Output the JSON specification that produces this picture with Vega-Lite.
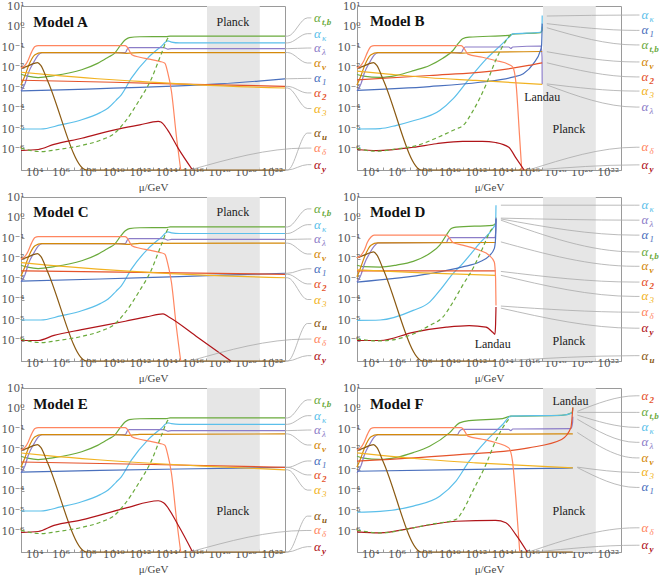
{
"$schema":"https://vega.github.io/schema/vega-lite/v6.json",
"background":"white",
"padding":{"left":0,"top":0,"right":0,"bottom":0},
"data":{"values":[
{"p":"A","k":"band","x":17.09,"x2":21.09},
{"p":"B","k":"band","x":17.09,"x2":21.09},
{"p":"C","k":"band","x":17.09,"x2":21.09},
{"p":"D","k":"band","x":17.09,"x2":21.09},
{"p":"E","k":"band","x":17.09,"x2":21.09},
{"p":"F","k":"band","x":17.09,"x2":21.09},
{"p":"A","k":"m","t":"Model A","x":3.92,"y":0.23},
{"p":"A","k":"n","t":"Planck","x":19.05,"y":0.24},
{"p":"B","k":"m","t":"Model B","x":3.98,"y":0.25},
{"p":"B","k":"n","t":"Landau","x":17.03,"y":-3.45},
{"p":"B","k":"n","t":"Planck","x":19.05,"y":-5.0},
{"p":"C","k":"m","t":"Model C","x":3.92,"y":0.26},
{"p":"C","k":"n","t":"Planck","x":19.05,"y":0.26},
{"p":"D","k":"m","t":"Model D","x":3.98,"y":0.28},
{"p":"D","k":"n","t":"Landau","x":13.28,"y":-6.17},
{"p":"D","k":"n","t":"Planck","x":19.05,"y":-6.0},
{"p":"E","k":"m","t":"Model E","x":3.92,"y":0.23},
{"p":"E","k":"n","t":"Planck","x":19.05,"y":-5.0},
{"p":"F","k":"m","t":"Model F","x":3.98,"y":0.23},
{"p":"F","k":"n","t":"Landau","x":19.17,"y":0.39},
{"p":"F","k":"n","t":"Planck","x":19.05,"y":-5.0},

{"p":"A","s":"tb","x":3,"y":-2.33},{"p":"A","s":"tb","x":3.5,"y":-2.42},{"p":"A","s":"tb","x":4.3,"y":-2.49},{"p":"A","s":"tb","x":5.5,"y":-2.4},{"p":"A","s":"tb","x":7.6,"y":-2.11},{"p":"A","s":"tb","x":8.8,"y":-1.8},{"p":"A","s":"tb","x":9.6,"y":-1.5},{"p":"A","s":"tb","x":10.1,"y":-1.3},{"p":"A","s":"tb","x":10.5,"y":-0.95},{"p":"A","s":"tb","x":10.9,"y":-0.65},{"p":"A","s":"tb","x":11.2,"y":-0.54},{"p":"A","s":"tb","x":12,"y":-0.5},{"p":"A","s":"tb","x":14,"y":-0.49},{"p":"A","s":"tb","x":14.3,"y":-0.47},{"p":"A","s":"tb","x":23,"y":-0.47},
{"p":"A","s":"b","x":3,"y":-5.93},{"p":"A","s":"b","x":3.5,"y":-6.02},{"p":"A","s":"b","x":4.5,"y":-6.1},{"p":"A","s":"b","x":6,"y":-5.98},{"p":"A","s":"b","x":7.6,"y":-5.8},{"p":"A","s":"b","x":9,"y":-5.55},{"p":"A","s":"b","x":10.1,"y":-5.2},{"p":"A","s":"b","x":10.9,"y":-4.63},{"p":"A","s":"b","x":11.9,"y":-3.66},{"p":"A","s":"b","x":12.9,"y":-2.52},{"p":"A","s":"b","x":13.6,"y":-1.38},{"p":"A","s":"b","x":14.13,"y":-0.57},{"p":"A","s":"b","x":14.3,"y":-0.47},
{"p":"A","s":"k","x":3,"y":-5},{"p":"A","s":"k","x":4.5,"y":-5},{"p":"A","s":"k","x":6,"y":-4.8},{"p":"A","s":"k","x":7.6,"y":-4.55},{"p":"A","s":"k","x":9,"y":-4.2},{"p":"A","s":"k","x":9.6,"y":-3.98},{"p":"A","s":"k","x":10.2,"y":-3.6},{"p":"A","s":"k","x":10.6,"y":-3.33},{"p":"A","s":"k","x":11.36,"y":-2.52},{"p":"A","s":"k","x":12.6,"y":-1.54},{"p":"A","s":"k","x":13.6,"y":-0.98},{"p":"A","s":"k","x":14.13,"y":-0.7},{"p":"A","s":"k","x":14.4,"y":-0.76},{"p":"A","s":"k","x":15,"y":-0.8},{"p":"A","s":"k","x":23,"y":-0.8},
{"p":"A","s":"l","x":3,"y":-3.14},{"p":"A","s":"l","x":3.3,"y":-2.8},{"p":"A","s":"l","x":3.55,"y":-2.28},{"p":"A","s":"l","x":4,"y":-1.7},{"p":"A","s":"l","x":4.3,"y":-1.4},{"p":"A","s":"l","x":4.6,"y":-1.28},{"p":"A","s":"l","x":10.9,"y":-1.27},{"p":"A","s":"l","x":11.05,"y":-1.1},{"p":"A","s":"l","x":11.2,"y":-1.03},{"p":"A","s":"l","x":13.8,"y":-1.03},{"p":"A","s":"l","x":14.1,"y":-1.1},{"p":"A","s":"l","x":14.4,"y":-1.08},{"p":"A","s":"l","x":23,"y":-1.08},
{"p":"A","s":"v","x":3,"y":-2.85},{"p":"A","s":"v","x":3.3,"y":-2.4},{"p":"A","s":"v","x":3.55,"y":-1.95},{"p":"A","s":"v","x":4.06,"y":-1.38},{"p":"A","s":"v","x":4.56,"y":-1.27},{"p":"A","s":"v","x":10,"y":-1.27},{"p":"A","s":"v","x":11,"y":-1.31},{"p":"A","s":"v","x":12,"y":-1.27},{"p":"A","s":"v","x":23,"y":-1.27},
{"p":"A","s":"g1","x":3,"y":-3.14},{"p":"A","s":"g1","x":6,"y":-3.09},{"p":"A","s":"g1","x":9,"y":-3.03},{"p":"A","s":"g1","x":12,"y":-2.97},{"p":"A","s":"g1","x":15,"y":-2.9},{"p":"A","s":"g1","x":18,"y":-2.8},{"p":"A","s":"g1","x":21,"y":-2.66},{"p":"A","s":"g1","x":23,"y":-2.55},
{"p":"A","s":"g2","x":3,"y":-2.62},{"p":"A","s":"g2","x":10,"y":-2.72},{"p":"A","s":"g2","x":16,"y":-2.82},{"p":"A","s":"g2","x":23,"y":-2.92},
{"p":"A","s":"g3","x":3,"y":-2.23},{"p":"A","s":"g3","x":5,"y":-2.35},{"p":"A","s":"g3","x":8.8,"y":-2.55},{"p":"A","s":"g3","x":12,"y":-2.68},{"p":"A","s":"g3","x":16.4,"y":-2.85},{"p":"A","s":"g3","x":23,"y":-3},
{"p":"A","s":"u","x":3,"y":-2.03},{"p":"A","s":"u","x":3.5,"y":-1.93},{"p":"A","s":"u","x":4,"y":-1.8},{"p":"A","s":"u","x":4.25,"y":-1.76},{"p":"A","s":"u","x":4.5,"y":-1.9},{"p":"A","s":"u","x":5,"y":-2.62},{"p":"A","s":"u","x":7.96,"y":-7},{"p":"A","s":"u","x":23,"y":-7},
{"p":"A","s":"d","x":3,"y":-2.03},{"p":"A","s":"d","x":3.3,"y":-1.9},{"p":"A","s":"d","x":3.55,"y":-1.63},{"p":"A","s":"d","x":3.8,"y":-1.25},{"p":"A","s":"d","x":4.06,"y":-0.98},{"p":"A","s":"d","x":4.3,"y":-0.93},{"p":"A","s":"d","x":10.9,"y":-0.93},{"p":"A","s":"d","x":11.1,"y":-1.05},{"p":"A","s":"d","x":11.4,"y":-1.38},{"p":"A","s":"d","x":12,"y":-1.5},{"p":"A","s":"d","x":12.6,"y":-1.58},{"p":"A","s":"d","x":13.5,"y":-1.7},{"p":"A","s":"d","x":13.9,"y":-1.79},{"p":"A","s":"d","x":14.1,"y":-2.2},{"p":"A","s":"d","x":14.4,"y":-3.17},{"p":"A","s":"d","x":14.76,"y":-5.28},{"p":"A","s":"d","x":15.1,"y":-7},
{"p":"A","s":"y","x":3,"y":-6.05},{"p":"A","s":"y","x":4.3,"y":-6},{"p":"A","s":"y","x":5.5,"y":-5.75},{"p":"A","s":"y","x":7.6,"y":-5.45},{"p":"A","s":"y","x":10.1,"y":-5.04},{"p":"A","s":"y","x":12,"y":-4.8},{"p":"A","s":"y","x":13.4,"y":-4.63},{"p":"A","s":"y","x":13.6,"y":-4.66},{"p":"A","s":"y","x":14.1,"y":-5.04},{"p":"A","s":"y","x":14.9,"y":-5.93},{"p":"A","s":"y","x":16,"y":-7},

{"p":"C","s":"tb","x":3,"y":-2.33},{"p":"C","s":"tb","x":3.5,"y":-2.42},{"p":"C","s":"tb","x":4.3,"y":-2.49},{"p":"C","s":"tb","x":5.5,"y":-2.4},{"p":"C","s":"tb","x":7.6,"y":-2.11},{"p":"C","s":"tb","x":8.8,"y":-1.8},{"p":"C","s":"tb","x":9.6,"y":-1.5},{"p":"C","s":"tb","x":10.1,"y":-1.3},{"p":"C","s":"tb","x":10.5,"y":-0.95},{"p":"C","s":"tb","x":10.9,"y":-0.65},{"p":"C","s":"tb","x":11.2,"y":-0.54},{"p":"C","s":"tb","x":12,"y":-0.5},{"p":"C","s":"tb","x":14,"y":-0.49},{"p":"C","s":"tb","x":14.3,"y":-0.46},{"p":"C","s":"tb","x":23,"y":-0.46},
{"p":"C","s":"b","x":3,"y":-5.93},{"p":"C","s":"b","x":3.5,"y":-6.02},{"p":"C","s":"b","x":4.5,"y":-6.1},{"p":"C","s":"b","x":6,"y":-5.98},{"p":"C","s":"b","x":7.6,"y":-5.8},{"p":"C","s":"b","x":9,"y":-5.55},{"p":"C","s":"b","x":10.1,"y":-5.2},{"p":"C","s":"b","x":10.9,"y":-4.63},{"p":"C","s":"b","x":11.9,"y":-3.66},{"p":"C","s":"b","x":12.9,"y":-2.52},{"p":"C","s":"b","x":13.6,"y":-1.38},{"p":"C","s":"b","x":14.13,"y":-0.57},{"p":"C","s":"b","x":14.3,"y":-0.46},
{"p":"C","s":"k","x":3,"y":-5},{"p":"C","s":"k","x":4.5,"y":-5},{"p":"C","s":"k","x":6,"y":-4.8},{"p":"C","s":"k","x":7.6,"y":-4.55},{"p":"C","s":"k","x":9,"y":-4.2},{"p":"C","s":"k","x":9.6,"y":-3.98},{"p":"C","s":"k","x":10.2,"y":-3.6},{"p":"C","s":"k","x":10.6,"y":-3.33},{"p":"C","s":"k","x":11.36,"y":-2.52},{"p":"C","s":"k","x":12.6,"y":-1.54},{"p":"C","s":"k","x":13.6,"y":-0.98},{"p":"C","s":"k","x":14.13,"y":-0.7},{"p":"C","s":"k","x":14.4,"y":-0.75},{"p":"C","s":"k","x":15,"y":-0.78},{"p":"C","s":"k","x":23,"y":-0.78},
{"p":"C","s":"l","x":3,"y":-3.14},{"p":"C","s":"l","x":3.3,"y":-2.8},{"p":"C","s":"l","x":3.55,"y":-2.28},{"p":"C","s":"l","x":4,"y":-1.7},{"p":"C","s":"l","x":4.3,"y":-1.4},{"p":"C","s":"l","x":4.6,"y":-1.28},{"p":"C","s":"l","x":10.9,"y":-1.27},{"p":"C","s":"l","x":11.05,"y":-1.1},{"p":"C","s":"l","x":11.2,"y":-1.03},{"p":"C","s":"l","x":13.8,"y":-1.03},{"p":"C","s":"l","x":14.1,"y":-1.1},{"p":"C","s":"l","x":14.4,"y":-1.07},{"p":"C","s":"l","x":23,"y":-1.07},
{"p":"C","s":"v","x":3,"y":-2.85},{"p":"C","s":"v","x":3.3,"y":-2.4},{"p":"C","s":"v","x":3.55,"y":-1.95},{"p":"C","s":"v","x":4.06,"y":-1.38},{"p":"C","s":"v","x":4.56,"y":-1.27},{"p":"C","s":"v","x":10,"y":-1.27},{"p":"C","s":"v","x":11,"y":-1.31},{"p":"C","s":"v","x":12,"y":-1.26},{"p":"C","s":"v","x":23,"y":-1.25},
{"p":"C","s":"g1","x":3,"y":-3.1},{"p":"C","s":"g1","x":9,"y":-3.0},{"p":"C","s":"g1","x":15,"y":-2.88},{"p":"C","s":"g1","x":19,"y":-2.8},{"p":"C","s":"g1","x":23,"y":-2.72},
{"p":"C","s":"g2","x":3,"y":-2.6},{"p":"C","s":"g2","x":12,"y":-2.68},{"p":"C","s":"g2","x":23,"y":-2.77},
{"p":"C","s":"g3","x":3,"y":-2.2},{"p":"C","s":"g3","x":5,"y":-2.32},{"p":"C","s":"g3","x":8.8,"y":-2.52},{"p":"C","s":"g3","x":16.4,"y":-2.8},{"p":"C","s":"g3","x":23,"y":-2.94},
{"p":"C","s":"u","x":3,"y":-2.03},{"p":"C","s":"u","x":3.5,"y":-1.93},{"p":"C","s":"u","x":4,"y":-1.8},{"p":"C","s":"u","x":4.25,"y":-1.76},{"p":"C","s":"u","x":4.5,"y":-1.9},{"p":"C","s":"u","x":5,"y":-2.62},{"p":"C","s":"u","x":7.96,"y":-7},{"p":"C","s":"u","x":23,"y":-7},
{"p":"C","s":"d","x":3,"y":-2.03},{"p":"C","s":"d","x":3.3,"y":-1.9},{"p":"C","s":"d","x":3.55,"y":-1.63},{"p":"C","s":"d","x":3.8,"y":-1.25},{"p":"C","s":"d","x":4.06,"y":-0.98},{"p":"C","s":"d","x":4.3,"y":-0.93},{"p":"C","s":"d","x":10.9,"y":-0.93},{"p":"C","s":"d","x":11.1,"y":-1.05},{"p":"C","s":"d","x":11.4,"y":-1.38},{"p":"C","s":"d","x":12,"y":-1.5},{"p":"C","s":"d","x":12.6,"y":-1.58},{"p":"C","s":"d","x":13.5,"y":-1.7},{"p":"C","s":"d","x":13.9,"y":-1.79},{"p":"C","s":"d","x":14.1,"y":-2.2},{"p":"C","s":"d","x":14.4,"y":-3.17},{"p":"C","s":"d","x":14.76,"y":-5.28},{"p":"C","s":"d","x":15.1,"y":-7},
{"p":"C","s":"y","x":3,"y":-6},{"p":"C","s":"y","x":4.3,"y":-6},{"p":"C","s":"y","x":5.5,"y":-5.75},{"p":"C","s":"y","x":7.6,"y":-5.47},{"p":"C","s":"y","x":10.9,"y":-5.06},{"p":"C","s":"y","x":12.5,"y":-4.85},{"p":"C","s":"y","x":13.76,"y":-4.7},{"p":"C","s":"y","x":14.2,"y":-4.85},{"p":"C","s":"y","x":16.4,"y":-5.85},{"p":"C","s":"y","x":18.9,"y":-7},

{"p":"E","s":"tb","x":3,"y":-2.33},{"p":"E","s":"tb","x":3.5,"y":-2.42},{"p":"E","s":"tb","x":4.3,"y":-2.49},{"p":"E","s":"tb","x":5.5,"y":-2.4},{"p":"E","s":"tb","x":7.6,"y":-2.11},{"p":"E","s":"tb","x":8.8,"y":-1.8},{"p":"E","s":"tb","x":9.6,"y":-1.5},{"p":"E","s":"tb","x":10.1,"y":-1.3},{"p":"E","s":"tb","x":10.5,"y":-0.95},{"p":"E","s":"tb","x":10.9,"y":-0.65},{"p":"E","s":"tb","x":11.2,"y":-0.54},{"p":"E","s":"tb","x":12,"y":-0.5},{"p":"E","s":"tb","x":14,"y":-0.49},{"p":"E","s":"tb","x":14.3,"y":-0.46},{"p":"E","s":"tb","x":23,"y":-0.46},
{"p":"E","s":"b","x":3,"y":-5.93},{"p":"E","s":"b","x":3.5,"y":-6.02},{"p":"E","s":"b","x":4.5,"y":-6.1},{"p":"E","s":"b","x":6,"y":-5.98},{"p":"E","s":"b","x":7.6,"y":-5.8},{"p":"E","s":"b","x":9,"y":-5.55},{"p":"E","s":"b","x":10.1,"y":-5.2},{"p":"E","s":"b","x":10.9,"y":-4.63},{"p":"E","s":"b","x":11.9,"y":-3.66},{"p":"E","s":"b","x":12.9,"y":-2.52},{"p":"E","s":"b","x":13.6,"y":-1.38},{"p":"E","s":"b","x":14.13,"y":-0.57},{"p":"E","s":"b","x":14.3,"y":-0.46},
{"p":"E","s":"k","x":3,"y":-5},{"p":"E","s":"k","x":4.5,"y":-5},{"p":"E","s":"k","x":6,"y":-4.8},{"p":"E","s":"k","x":7.6,"y":-4.55},{"p":"E","s":"k","x":9,"y":-4.2},{"p":"E","s":"k","x":9.6,"y":-3.98},{"p":"E","s":"k","x":10.2,"y":-3.6},{"p":"E","s":"k","x":10.6,"y":-3.33},{"p":"E","s":"k","x":11.36,"y":-2.52},{"p":"E","s":"k","x":12.6,"y":-1.54},{"p":"E","s":"k","x":13.6,"y":-0.98},{"p":"E","s":"k","x":14.13,"y":-0.7},{"p":"E","s":"k","x":14.4,"y":-0.74},{"p":"E","s":"k","x":15,"y":-0.77},{"p":"E","s":"k","x":23,"y":-0.77},
{"p":"E","s":"l","x":3,"y":-3.14},{"p":"E","s":"l","x":3.3,"y":-2.8},{"p":"E","s":"l","x":3.55,"y":-2.28},{"p":"E","s":"l","x":4,"y":-1.7},{"p":"E","s":"l","x":4.3,"y":-1.4},{"p":"E","s":"l","x":4.6,"y":-1.28},{"p":"E","s":"l","x":10.9,"y":-1.27},{"p":"E","s":"l","x":11.05,"y":-1.1},{"p":"E","s":"l","x":11.2,"y":-1.03},{"p":"E","s":"l","x":13.8,"y":-1.03},{"p":"E","s":"l","x":14.1,"y":-1.1},{"p":"E","s":"l","x":14.4,"y":-1.08},{"p":"E","s":"l","x":23,"y":-1.08},
{"p":"E","s":"v","x":3,"y":-2.85},{"p":"E","s":"v","x":3.3,"y":-2.4},{"p":"E","s":"v","x":3.55,"y":-1.95},{"p":"E","s":"v","x":4.06,"y":-1.38},{"p":"E","s":"v","x":4.56,"y":-1.27},{"p":"E","s":"v","x":10,"y":-1.27},{"p":"E","s":"v","x":11,"y":-1.31},{"p":"E","s":"v","x":12,"y":-1.26},{"p":"E","s":"v","x":23,"y":-1.24},
{"p":"E","s":"g1","x":3,"y":-3.1},{"p":"E","s":"g1","x":9,"y":-3.02},{"p":"E","s":"g1","x":15,"y":-2.95},{"p":"E","s":"g1","x":23,"y":-2.87},
{"p":"E","s":"g2","x":3,"y":-2.61},{"p":"E","s":"g2","x":12,"y":-2.72},{"p":"E","s":"g2","x":23,"y":-2.87},
{"p":"E","s":"g3","x":3,"y":-2.17},{"p":"E","s":"g3","x":5,"y":-2.3},{"p":"E","s":"g3","x":8.8,"y":-2.5},{"p":"E","s":"g3","x":16.4,"y":-2.8},{"p":"E","s":"g3","x":23,"y":-2.99},
{"p":"E","s":"u","x":3,"y":-2.03},{"p":"E","s":"u","x":3.5,"y":-1.93},{"p":"E","s":"u","x":4,"y":-1.8},{"p":"E","s":"u","x":4.25,"y":-1.76},{"p":"E","s":"u","x":4.5,"y":-1.9},{"p":"E","s":"u","x":5,"y":-2.62},{"p":"E","s":"u","x":7.96,"y":-7},{"p":"E","s":"u","x":23,"y":-7},
{"p":"E","s":"d","x":3,"y":-2.03},{"p":"E","s":"d","x":3.3,"y":-1.9},{"p":"E","s":"d","x":3.55,"y":-1.63},{"p":"E","s":"d","x":3.8,"y":-1.25},{"p":"E","s":"d","x":4.06,"y":-0.98},{"p":"E","s":"d","x":4.3,"y":-0.93},{"p":"E","s":"d","x":10.9,"y":-0.93},{"p":"E","s":"d","x":11.1,"y":-1.05},{"p":"E","s":"d","x":11.4,"y":-1.38},{"p":"E","s":"d","x":12,"y":-1.5},{"p":"E","s":"d","x":12.6,"y":-1.58},{"p":"E","s":"d","x":13.5,"y":-1.7},{"p":"E","s":"d","x":13.9,"y":-1.79},{"p":"E","s":"d","x":14.1,"y":-2.2},{"p":"E","s":"d","x":14.4,"y":-3.17},{"p":"E","s":"d","x":14.76,"y":-5.28},{"p":"E","s":"d","x":15.1,"y":-7},
{"p":"E","s":"y","x":3,"y":-6.04},{"p":"E","s":"y","x":4.3,"y":-6},{"p":"E","s":"y","x":5.5,"y":-5.7},{"p":"E","s":"y","x":7.6,"y":-5.43},{"p":"E","s":"y","x":10.9,"y":-4.86},{"p":"E","s":"y","x":13.4,"y":-4.5},{"p":"E","s":"y","x":13.8,"y":-4.6},{"p":"E","s":"y","x":14.9,"y":-5.68},{"p":"E","s":"y","x":16,"y":-7},

{"p":"B","s":"tb","x":3,"y":-2.34},{"p":"B","s":"tb","x":3.5,"y":-2.42},{"p":"B","s":"tb","x":4.75,"y":-2.48},{"p":"B","s":"tb","x":6,"y":-2.38},{"p":"B","s":"tb","x":7.3,"y":-2.15},{"p":"B","s":"tb","x":8.5,"y":-1.9},{"p":"B","s":"tb","x":9.5,"y":-1.55},{"p":"B","s":"tb","x":10.27,"y":-1.17},{"p":"B","s":"tb","x":10.7,"y":-0.8},{"p":"B","s":"tb","x":11,"y":-0.6},{"p":"B","s":"tb","x":11.5,"y":-0.52},{"p":"B","s":"tb","x":14.5,"y":-0.43},{"p":"B","s":"tb","x":14.8,"y":-0.37},{"p":"B","s":"tb","x":16.9,"y":-0.3},{"p":"B","s":"tb","x":17.02,"y":-0.2},{"p":"B","s":"tb","x":17.03,"y":0},
{"p":"B","s":"b","x":3,"y":-5.93},{"p":"B","s":"b","x":3.5,"y":-6.02},{"p":"B","s":"b","x":4.5,"y":-6.08},{"p":"B","s":"b","x":6,"y":-5.97},{"p":"B","s":"b","x":7.26,"y":-5.85},{"p":"B","s":"b","x":9.5,"y":-5.3},{"p":"B","s":"b","x":10.5,"y":-5},{"p":"B","s":"b","x":11,"y":-4.85},{"p":"B","s":"b","x":11.8,"y":-4.1},{"p":"B","s":"b","x":12.8,"y":-2.8},{"p":"B","s":"b","x":13.5,"y":-1.66},{"p":"B","s":"b","x":14.3,"y":-0.68},{"p":"B","s":"b","x":14.65,"y":-0.39},
{"p":"B","s":"k","x":3,"y":-5},{"p":"B","s":"k","x":4.75,"y":-4.98},{"p":"B","s":"k","x":6,"y":-4.82},{"p":"B","s":"k","x":7.26,"y":-4.6},{"p":"B","s":"k","x":9.27,"y":-4.1},{"p":"B","s":"k","x":10.27,"y":-3.53},{"p":"B","s":"k","x":11.5,"y":-2.55},{"p":"B","s":"k","x":12.8,"y":-1.58},{"p":"B","s":"k","x":14,"y":-0.85},{"p":"B","s":"k","x":14.65,"y":-0.44},{"p":"B","s":"k","x":14.8,"y":-0.36},{"p":"B","s":"k","x":16.9,"y":-0.28},{"p":"B","s":"k","x":17.02,"y":0},{"p":"B","s":"k","x":17.03,"y":0.54},
{"p":"B","s":"l","x":3,"y":-3.14},{"p":"B","s":"l","x":3.3,"y":-2.8},{"p":"B","s":"l","x":3.55,"y":-2.28},{"p":"B","s":"l","x":4,"y":-1.7},{"p":"B","s":"l","x":4.3,"y":-1.4},{"p":"B","s":"l","x":4.6,"y":-1.28},{"p":"B","s":"l","x":10.9,"y":-1.27},{"p":"B","s":"l","x":11.05,"y":-1.1},{"p":"B","s":"l","x":11.2,"y":-1},{"p":"B","s":"l","x":14.5,"y":-1},{"p":"B","s":"l","x":14.65,"y":-1.07},{"p":"B","s":"l","x":14.8,"y":-1},{"p":"B","s":"l","x":16.95,"y":-0.95},{"p":"B","s":"l","x":17.02,"y":-1.5},{"p":"B","s":"l","x":17.03,"y":-2.82},
{"p":"B","s":"v","x":3,"y":-2.85},{"p":"B","s":"v","x":3.3,"y":-2.4},{"p":"B","s":"v","x":3.55,"y":-1.95},{"p":"B","s":"v","x":4.06,"y":-1.38},{"p":"B","s":"v","x":4.56,"y":-1.27},{"p":"B","s":"v","x":10,"y":-1.27},{"p":"B","s":"v","x":11,"y":-1.3},{"p":"B","s":"v","x":12,"y":-1.26},{"p":"B","s":"v","x":17.03,"y":-1.22},
{"p":"B","s":"g1","x":3,"y":-3.12},{"p":"B","s":"g1","x":8.5,"y":-2.93},{"p":"B","s":"g1","x":12.3,"y":-2.72},{"p":"B","s":"g1","x":14.8,"y":-2.47},{"p":"B","s":"g1","x":15.6,"y":-2.3},{"p":"B","s":"g1","x":16.38,"y":-1.8},{"p":"B","s":"g1","x":16.88,"y":-1.2},{"p":"B","s":"g1","x":16.98,"y":-0.95},{"p":"B","s":"g1","x":17.03,"y":0.14},
{"p":"B","s":"g2","x":3,"y":-2.6},{"p":"B","s":"g2","x":8.5,"y":-2.39},{"p":"B","s":"g2","x":13.5,"y":-2.15},{"p":"B","s":"g2","x":16,"y":-1.9},{"p":"B","s":"g2","x":17.03,"y":-1.77},
{"p":"B","s":"g3","x":3,"y":-2.18},{"p":"B","s":"g3","x":5,"y":-2.3},{"p":"B","s":"g3","x":8.5,"y":-2.5},{"p":"B","s":"g3","x":12,"y":-2.63},{"p":"B","s":"g3","x":17.03,"y":-2.82},
{"p":"B","s":"u","x":3,"y":-2.03},{"p":"B","s":"u","x":3.5,"y":-1.93},{"p":"B","s":"u","x":4,"y":-1.8},{"p":"B","s":"u","x":4.25,"y":-1.76},{"p":"B","s":"u","x":4.5,"y":-1.9},{"p":"B","s":"u","x":5,"y":-2.62},{"p":"B","s":"u","x":7.9,"y":-7},{"p":"B","s":"u","x":17.03,"y":-7},
{"p":"B","s":"d","x":3,"y":-2.03},{"p":"B","s":"d","x":3.3,"y":-1.9},{"p":"B","s":"d","x":3.55,"y":-1.63},{"p":"B","s":"d","x":3.8,"y":-1.25},{"p":"B","s":"d","x":4.06,"y":-0.98},{"p":"B","s":"d","x":4.3,"y":-0.93},{"p":"B","s":"d","x":10.9,"y":-0.93},{"p":"B","s":"d","x":11.1,"y":-1.05},{"p":"B","s":"d","x":11.4,"y":-1.35},{"p":"B","s":"d","x":12.5,"y":-1.5},{"p":"B","s":"d","x":13.5,"y":-1.66},{"p":"B","s":"d","x":14.5,"y":-1.85},{"p":"B","s":"d","x":14.8,"y":-1.98},{"p":"B","s":"d","x":15.05,"y":-2.8},{"p":"B","s":"d","x":15.3,"y":-5.2},{"p":"B","s":"d","x":15.48,"y":-7},
{"p":"B","s":"y","x":3,"y":-6},{"p":"B","s":"y","x":4.5,"y":-6.05},{"p":"B","s":"y","x":7.26,"y":-5.89},{"p":"B","s":"y","x":9,"y":-5.72},{"p":"B","s":"y","x":11,"y":-5.6},{"p":"B","s":"y","x":12.5,"y":-5.6},{"p":"B","s":"y","x":13.5,"y":-5.66},{"p":"B","s":"y","x":14.5,"y":-5.89},{"p":"B","s":"y","x":15,"y":-6.37},{"p":"B","s":"y","x":15.66,"y":-7},

{"p":"D","s":"tb","x":3,"y":-2.33},{"p":"D","s":"tb","x":3.5,"y":-2.4},{"p":"D","s":"tb","x":4.75,"y":-2.42},{"p":"D","s":"tb","x":6,"y":-2.32},{"p":"D","s":"tb","x":7.26,"y":-2.14},{"p":"D","s":"tb","x":8.5,"y":-1.76},{"p":"D","s":"tb","x":9.27,"y":-1.35},{"p":"D","s":"tb","x":9.77,"y":-0.86},{"p":"D","s":"tb","x":10.14,"y":-0.54},{"p":"D","s":"tb","x":10.5,"y":-0.47},{"p":"D","s":"tb","x":13.28,"y":-0.38},{"p":"D","s":"tb","x":13.5,"y":-0.29},{"p":"D","s":"tb","x":13.53,"y":0},
{"p":"D","s":"b","x":3,"y":-5.93},{"p":"D","s":"b","x":4.75,"y":-6.02},{"p":"D","s":"b","x":7.26,"y":-5.68},{"p":"D","s":"b","x":8.5,"y":-5.27},{"p":"D","s":"b","x":9.5,"y":-4.86},{"p":"D","s":"b","x":10.27,"y":-4.13},{"p":"D","s":"b","x":11,"y":-3.31},{"p":"D","s":"b","x":11.77,"y":-2.5},{"p":"D","s":"b","x":12.5,"y":-1.52},{"p":"D","s":"b","x":13.15,"y":-0.62},{"p":"D","s":"b","x":13.4,"y":-0.46},
{"p":"D","s":"k","x":3,"y":-5.02},{"p":"D","s":"k","x":4.75,"y":-5},{"p":"D","s":"k","x":7.26,"y":-4.53},{"p":"D","s":"k","x":8.5,"y":-4.13},{"p":"D","s":"k","x":9.27,"y":-3.56},{"p":"D","s":"k","x":10.27,"y":-2.74},{"p":"D","s":"k","x":11,"y":-2.25},{"p":"D","s":"k","x":12.27,"y":-1.27},{"p":"D","s":"k","x":13.28,"y":-0.54},{"p":"D","s":"k","x":13.5,"y":-0.3},{"p":"D","s":"k","x":13.53,"y":0.6},
{"p":"D","s":"l","x":3,"y":-3.15},{"p":"D","s":"l","x":3.3,"y":-2.8},{"p":"D","s":"l","x":3.55,"y":-2.28},{"p":"D","s":"l","x":4,"y":-1.7},{"p":"D","s":"l","x":4.3,"y":-1.4},{"p":"D","s":"l","x":4.6,"y":-1.24},{"p":"D","s":"l","x":9.77,"y":-1.22},{"p":"D","s":"l","x":9.9,"y":-1.05},{"p":"D","s":"l","x":10.1,"y":-0.98},{"p":"D","s":"l","x":13.45,"y":-0.98},{"p":"D","s":"l","x":13.52,"y":-0.6},{"p":"D","s":"l","x":13.53,"y":-0.03},
{"p":"D","s":"v","x":3,"y":-2.9},{"p":"D","s":"v","x":3.3,"y":-2.4},{"p":"D","s":"v","x":3.55,"y":-1.95},{"p":"D","s":"v","x":4.06,"y":-1.35},{"p":"D","s":"v","x":4.56,"y":-1.24},{"p":"D","s":"v","x":13.53,"y":-1.22},
{"p":"D","s":"g1","x":3,"y":-3.15},{"p":"D","s":"g1","x":8.5,"y":-2.74},{"p":"D","s":"g1","x":11,"y":-2.41},{"p":"D","s":"g1","x":12.27,"y":-2.17},{"p":"D","s":"g1","x":13,"y":-1.88},{"p":"D","s":"g1","x":13.4,"y":-1.52},{"p":"D","s":"g1","x":13.5,"y":-1},{"p":"D","s":"g1","x":13.53,"y":-0.07},
{"p":"D","s":"g2","x":3,"y":-2.6},{"p":"D","s":"g2","x":8,"y":-2.6},{"p":"D","s":"g2","x":13.53,"y":-2.6},
{"p":"D","s":"g3","x":3,"y":-2.55},{"p":"D","s":"g3","x":8,"y":-2.7},{"p":"D","s":"g3","x":13.53,"y":-2.82},
{"p":"D","s":"u","x":3,"y":-1.97},{"p":"D","s":"u","x":3.5,"y":-1.85},{"p":"D","s":"u","x":4,"y":-1.72},{"p":"D","s":"u","x":4.25,"y":-1.68},{"p":"D","s":"u","x":4.5,"y":-1.82},{"p":"D","s":"u","x":5,"y":-2.55},{"p":"D","s":"u","x":8,"y":-7},{"p":"D","s":"u","x":13.53,"y":-7},
{"p":"D","s":"d","x":3,"y":-1.97},{"p":"D","s":"d","x":3.3,"y":-1.85},{"p":"D","s":"d","x":3.55,"y":-1.6},{"p":"D","s":"d","x":3.8,"y":-1.2},{"p":"D","s":"d","x":4.06,"y":-0.95},{"p":"D","s":"d","x":4.3,"y":-0.86},{"p":"D","s":"d","x":9.77,"y":-0.86},{"p":"D","s":"d","x":10.27,"y":-1.22},{"p":"D","s":"d","x":11,"y":-1.35},{"p":"D","s":"d","x":12.27,"y":-1.6},{"p":"D","s":"d","x":13,"y":-1.84},{"p":"D","s":"d","x":13.4,"y":-2.17},{"p":"D","s":"d","x":13.5,"y":-2.98},{"p":"D","s":"d","x":13.53,"y":-4.29},
{"p":"D","s":"y","x":3,"y":-6},{"p":"D","s":"y","x":4.75,"y":-6},{"p":"D","s":"y","x":7.26,"y":-5.6},{"p":"D","s":"y","x":9.77,"y":-5.35},{"p":"D","s":"y","x":11.5,"y":-5.27},{"p":"D","s":"y","x":12.77,"y":-5.35},{"p":"D","s":"y","x":13.28,"y":-5.6},{"p":"D","s":"y","x":13.45,"y":-5.7},{"p":"D","s":"y","x":13.5,"y":-5.2},{"p":"D","s":"y","x":13.53,"y":-4.37},

{"p":"F","s":"tb","x":3,"y":-2.33},{"p":"F","s":"tb","x":3.5,"y":-2.42},{"p":"F","s":"tb","x":4.75,"y":-2.48},{"p":"F","s":"tb","x":6,"y":-2.38},{"p":"F","s":"tb","x":7.26,"y":-2.15},{"p":"F","s":"tb","x":8.5,"y":-1.84},{"p":"F","s":"tb","x":10,"y":-1.19},{"p":"F","s":"tb","x":10.77,"y":-0.7},{"p":"F","s":"tb","x":11.5,"y":-0.59},{"p":"F","s":"tb","x":14.03,"y":-0.49},{"p":"F","s":"tb","x":14.65,"y":-0.37},{"p":"F","s":"tb","x":18.5,"y":-0.34},{"p":"F","s":"tb","x":19.3,"y":-0.2},{"p":"F","s":"tb","x":19.35,"y":0.05},
{"p":"F","s":"b","x":3,"y":-5.93},{"p":"F","s":"b","x":4.75,"y":-6.07},{"p":"F","s":"b","x":7.26,"y":-5.82},{"p":"F","s":"b","x":8.5,"y":-5.66},{"p":"F","s":"b","x":10.5,"y":-5.41},{"p":"F","s":"b","x":11,"y":-5},{"p":"F","s":"b","x":11.77,"y":-4.03},{"p":"F","s":"b","x":12.77,"y":-2.73},{"p":"F","s":"b","x":13.5,"y":-1.59},{"p":"F","s":"b","x":14.28,"y":-0.7},{"p":"F","s":"b","x":14.65,"y":-0.41},
{"p":"F","s":"k","x":3,"y":-5.06},{"p":"F","s":"k","x":4.75,"y":-5.02},{"p":"F","s":"k","x":7.26,"y":-4.76},{"p":"F","s":"k","x":9.27,"y":-4.28},{"p":"F","s":"k","x":10.5,"y":-3.54},{"p":"F","s":"k","x":11.5,"y":-2.57},{"p":"F","s":"k","x":12.77,"y":-1.59},{"p":"F","s":"k","x":14.03,"y":-0.78},{"p":"F","s":"k","x":14.65,"y":-0.37},{"p":"F","s":"k","x":18.5,"y":-0.33},{"p":"F","s":"k","x":19.3,"y":-0.22},{"p":"F","s":"k","x":19.35,"y":-0.05},
{"p":"F","s":"l","x":3,"y":-3.14},{"p":"F","s":"l","x":3.3,"y":-2.8},{"p":"F","s":"l","x":3.55,"y":-2.28},{"p":"F","s":"l","x":4,"y":-1.7},{"p":"F","s":"l","x":4.3,"y":-1.4},{"p":"F","s":"l","x":4.6,"y":-1.28},{"p":"F","s":"l","x":10.6,"y":-1.27},{"p":"F","s":"l","x":10.77,"y":-1.1},{"p":"F","s":"l","x":11,"y":-1.02},{"p":"F","s":"l","x":14.5,"y":-1.02},{"p":"F","s":"l","x":14.65,"y":-1.08},{"p":"F","s":"l","x":14.8,"y":-1},{"p":"F","s":"l","x":19.2,"y":-0.98},{"p":"F","s":"l","x":19.33,"y":-0.7},{"p":"F","s":"l","x":19.35,"y":-0.4},
{"p":"F","s":"v","x":3,"y":-2.85},{"p":"F","s":"v","x":3.3,"y":-2.4},{"p":"F","s":"v","x":3.55,"y":-1.95},{"p":"F","s":"v","x":4.06,"y":-1.38},{"p":"F","s":"v","x":4.56,"y":-1.27},{"p":"F","s":"v","x":10,"y":-1.27},{"p":"F","s":"v","x":11,"y":-1.3},{"p":"F","s":"v","x":12,"y":-1.25},{"p":"F","s":"v","x":19.35,"y":-1.24},
{"p":"F","s":"g1","x":3,"y":-3.06},{"p":"F","s":"g1","x":12,"y":-2.97},{"p":"F","s":"g1","x":19.35,"y":-2.9},
{"p":"F","s":"g2","x":3,"y":-2.57},{"p":"F","s":"g2","x":11,"y":-2.24},{"p":"F","s":"g2","x":16,"y":-1.92},{"p":"F","s":"g2","x":18.5,"y":-1.51},{"p":"F","s":"g2","x":19.2,"y":-0.94},{"p":"F","s":"g2","x":19.35,"y":0.05},
{"p":"F","s":"g3","x":3,"y":-2.16},{"p":"F","s":"g3","x":5,"y":-2.3},{"p":"F","s":"g3","x":8.5,"y":-2.5},{"p":"F","s":"g3","x":12,"y":-2.65},{"p":"F","s":"g3","x":19.35,"y":-2.9},
{"p":"F","s":"u","x":3,"y":-2.03},{"p":"F","s":"u","x":3.5,"y":-1.93},{"p":"F","s":"u","x":4,"y":-1.8},{"p":"F","s":"u","x":4.25,"y":-1.76},{"p":"F","s":"u","x":4.5,"y":-1.9},{"p":"F","s":"u","x":5,"y":-2.62},{"p":"F","s":"u","x":7.9,"y":-7},{"p":"F","s":"u","x":19.35,"y":-7},
{"p":"F","s":"d","x":3,"y":-2.03},{"p":"F","s":"d","x":3.3,"y":-1.9},{"p":"F","s":"d","x":3.55,"y":-1.63},{"p":"F","s":"d","x":3.8,"y":-1.25},{"p":"F","s":"d","x":4.06,"y":-0.98},{"p":"F","s":"d","x":4.3,"y":-0.93},{"p":"F","s":"d","x":10.9,"y":-0.93},{"p":"F","s":"d","x":11.1,"y":-1.05},{"p":"F","s":"d","x":11.4,"y":-1.35},{"p":"F","s":"d","x":12.5,"y":-1.5},{"p":"F","s":"d","x":13.5,"y":-1.66},{"p":"F","s":"d","x":14.5,"y":-1.92},{"p":"F","s":"d","x":14.78,"y":-2.57},{"p":"F","s":"d","x":15.03,"y":-4.36},{"p":"F","s":"d","x":15.33,"y":-7},
{"p":"F","s":"y","x":3,"y":-6.02},{"p":"F","s":"y","x":4.75,"y":-6.07},{"p":"F","s":"y","x":7.26,"y":-5.82},{"p":"F","s":"y","x":10.5,"y":-5.5},{"p":"F","s":"y","x":13.5,"y":-5.46},{"p":"F","s":"y","x":14.28,"y":-5.57},{"p":"F","s":"y","x":15.03,"y":-6.15},{"p":"F","s":"y","x":15.9,"y":-7},

{"p":"A","k":"lb","s":"tb","t":"t,b","x":25.2,"y":0.42},{"p":"A","k":"lb","s":"k","t":"κ","x":25.2,"y":-0.35},{"p":"A","k":"lb","s":"l","t":"λ","x":25.2,"y":-1.05},{"p":"A","k":"lb","s":"v","t":"v","x":25.2,"y":-1.78},{"p":"A","k":"lb","s":"g1","t":"1","x":25.2,"y":-2.53},{"p":"A","k":"lb","s":"g2","t":"2","x":25.2,"y":-3.24},{"p":"A","k":"lb","s":"g3","t":"3","x":25.2,"y":-4.0},{"p":"A","k":"lb","s":"u","t":"u","x":25.2,"y":-5.2},{"p":"A","k":"lb","s":"d","t":"δ","x":25.2,"y":-5.93},{"p":"A","k":"lb","s":"y","t":"y","x":25.2,"y":-6.74},
{"p":"C","k":"lb","s":"tb","t":"t,b","x":25.2,"y":0.42},{"p":"C","k":"lb","s":"k","t":"κ","x":25.2,"y":-0.35},{"p":"C","k":"lb","s":"l","t":"λ","x":25.2,"y":-1.05},{"p":"C","k":"lb","s":"v","t":"v","x":25.2,"y":-1.78},{"p":"C","k":"lb","s":"g1","t":"1","x":25.2,"y":-2.5},{"p":"C","k":"lb","s":"g2","t":"2","x":25.2,"y":-3.24},{"p":"C","k":"lb","s":"g3","t":"3","x":25.2,"y":-4.0},{"p":"C","k":"lb","s":"u","t":"u","x":25.2,"y":-5.17},{"p":"C","k":"lb","s":"d","t":"δ","x":25.2,"y":-5.93},{"p":"C","k":"lb","s":"y","t":"y","x":25.2,"y":-6.74},
{"p":"E","k":"lb","s":"tb","t":"t,b","x":25.2,"y":0.42},{"p":"E","k":"lb","s":"k","t":"κ","x":25.2,"y":-0.35},{"p":"E","k":"lb","s":"l","t":"λ","x":25.2,"y":-1.05},{"p":"E","k":"lb","s":"v","t":"v","x":25.2,"y":-1.78},{"p":"E","k":"lb","s":"g1","t":"1","x":25.2,"y":-2.56},{"p":"E","k":"lb","s":"g2","t":"2","x":25.2,"y":-3.24},{"p":"E","k":"lb","s":"g3","t":"3","x":25.2,"y":-3.98},{"p":"E","k":"lb","s":"u","t":"u","x":25.2,"y":-5.25},{"p":"E","k":"lb","s":"d","t":"δ","x":25.2,"y":-5.95},{"p":"E","k":"lb","s":"y","t":"y","x":25.2,"y":-6.74},
{"p":"B","k":"lb","s":"k","t":"κ","x":24.55,"y":0.56},{"p":"B","k":"lb","s":"g1","t":"1","x":24.55,"y":-0.19},{"p":"B","k":"lb","s":"tb","t":"t,b","x":24.55,"y":-0.9},{"p":"B","k":"lb","s":"v","t":"v","x":24.55,"y":-1.73},{"p":"B","k":"lb","s":"g2","t":"2","x":24.55,"y":-2.46},{"p":"B","k":"lb","s":"g3","t":"3","x":24.55,"y":-3.15},{"p":"B","k":"lb","s":"l","t":"λ","x":24.55,"y":-3.93},{"p":"B","k":"lb","s":"d","t":"δ","x":24.55,"y":-5.89},{"p":"B","k":"lb","s":"y","t":"y","x":24.55,"y":-6.75},
{"p":"D","k":"lb","s":"k","t":"κ","x":24.55,"y":0.6},{"p":"D","k":"lb","s":"l","t":"λ","x":24.55,"y":-0.13},{"p":"D","k":"lb","s":"g1","t":"1","x":24.55,"y":-0.86},{"p":"D","k":"lb","s":"tb","t":"t,b","x":24.55,"y":-1.68},{"p":"D","k":"lb","s":"v","t":"v","x":24.55,"y":-2.38},{"p":"D","k":"lb","s":"g2","t":"2","x":24.55,"y":-3.15},{"p":"D","k":"lb","s":"g3","t":"3","x":24.55,"y":-3.85},{"p":"D","k":"lb","s":"d","t":"δ","x":24.55,"y":-4.62},{"p":"D","k":"lb","s":"y","t":"y","x":24.55,"y":-5.4},{"p":"D","k":"lb","s":"u","t":"u","x":24.55,"y":-6.74},
{"p":"F","k":"lb","s":"g2","t":"2","x":24.55,"y":0.62},{"p":"F","k":"lb","s":"tb","t":"t,b","x":24.55,"y":-0.19},{"p":"F","k":"lb","s":"k","t":"κ","x":24.55,"y":-0.92},{"p":"F","k":"lb","s":"l","t":"λ","x":24.55,"y":-1.65},{"p":"F","k":"lb","s":"v","t":"v","x":24.55,"y":-2.41},{"p":"F","k":"lb","s":"g3","t":"3","x":24.55,"y":-3.12},{"p":"F","k":"lb","s":"g1","t":"1","x":24.55,"y":-3.85},{"p":"F","k":"lb","s":"d","t":"δ","x":24.55,"y":-5.82},{"p":"F","k":"lb","s":"y","t":"y","x":24.55,"y":-6.67},

{"p":"A","k":"ld","s":"tb","x":23,"y":-0.47},{"p":"A","k":"ld","s":"tb","x":23.2,"y":-0.47},{"p":"A","k":"ld","s":"tb","x":24.7,"y":0.42},{"p":"A","k":"ld","s":"tb","x":25.0,"y":0.42},
{"p":"A","k":"ld","s":"k","x":23,"y":-0.8},{"p":"A","k":"ld","s":"k","x":23.2,"y":-0.8},{"p":"A","k":"ld","s":"k","x":24.7,"y":-0.35},{"p":"A","k":"ld","s":"k","x":25.0,"y":-0.35},
{"p":"A","k":"ld","s":"l","x":23,"y":-1.08},{"p":"A","k":"ld","s":"l","x":23.2,"y":-1.08},{"p":"A","k":"ld","s":"l","x":24.7,"y":-1.05},{"p":"A","k":"ld","s":"l","x":25.0,"y":-1.05},
{"p":"A","k":"ld","s":"v","x":23,"y":-1.27},{"p":"A","k":"ld","s":"v","x":23.2,"y":-1.27},{"p":"A","k":"ld","s":"v","x":24.7,"y":-1.78},{"p":"A","k":"ld","s":"v","x":25.0,"y":-1.78},
{"p":"A","k":"ld","s":"g1","x":23,"y":-2.55},{"p":"A","k":"ld","s":"g1","x":23.2,"y":-2.55},{"p":"A","k":"ld","s":"g1","x":24.7,"y":-2.53},{"p":"A","k":"ld","s":"g1","x":25.0,"y":-2.53},
{"p":"A","k":"ld","s":"g2","x":23,"y":-2.92},{"p":"A","k":"ld","s":"g2","x":23.2,"y":-2.92},{"p":"A","k":"ld","s":"g2","x":24.7,"y":-3.24},{"p":"A","k":"ld","s":"g2","x":25.0,"y":-3.24},
{"p":"A","k":"ld","s":"g3","x":23,"y":-3},{"p":"A","k":"ld","s":"g3","x":23.2,"y":-3},{"p":"A","k":"ld","s":"g3","x":24.7,"y":-4.0},{"p":"A","k":"ld","s":"g3","x":25.0,"y":-4.0},
{"p":"A","k":"ld","s":"u","x":23,"y":-7},{"p":"A","k":"ld","s":"u","x":23.2,"y":-7},{"p":"A","k":"ld","s":"u","x":24.7,"y":-5.2},{"p":"A","k":"ld","s":"u","x":25.0,"y":-5.2},
{"p":"A","k":"ld","s":"d","x":15.8,"y":-7},{"p":"A","k":"ld","s":"d","x":24.6,"y":-5.93},{"p":"A","k":"ld","s":"d","x":25.0,"y":-5.93},
{"p":"A","k":"ld","s":"y","x":23,"y":-7},{"p":"A","k":"ld","s":"y","x":23.2,"y":-7},{"p":"A","k":"ld","s":"y","x":24.7,"y":-6.74},{"p":"A","k":"ld","s":"y","x":25.0,"y":-6.74},

{"p":"C","k":"ld","s":"tb","x":23,"y":-0.46},{"p":"C","k":"ld","s":"tb","x":23.2,"y":-0.46},{"p":"C","k":"ld","s":"tb","x":24.7,"y":0.42},{"p":"C","k":"ld","s":"tb","x":25.0,"y":0.42},
{"p":"C","k":"ld","s":"k","x":23,"y":-0.78},{"p":"C","k":"ld","s":"k","x":23.2,"y":-0.78},{"p":"C","k":"ld","s":"k","x":24.7,"y":-0.35},{"p":"C","k":"ld","s":"k","x":25.0,"y":-0.35},
{"p":"C","k":"ld","s":"l","x":23,"y":-1.07},{"p":"C","k":"ld","s":"l","x":23.2,"y":-1.07},{"p":"C","k":"ld","s":"l","x":24.7,"y":-1.05},{"p":"C","k":"ld","s":"l","x":25.0,"y":-1.05},
{"p":"C","k":"ld","s":"v","x":23,"y":-1.25},{"p":"C","k":"ld","s":"v","x":23.2,"y":-1.25},{"p":"C","k":"ld","s":"v","x":24.7,"y":-1.78},{"p":"C","k":"ld","s":"v","x":25.0,"y":-1.78},
{"p":"C","k":"ld","s":"g1","x":23,"y":-2.72},{"p":"C","k":"ld","s":"g1","x":23.2,"y":-2.72},{"p":"C","k":"ld","s":"g1","x":24.7,"y":-2.5},{"p":"C","k":"ld","s":"g1","x":25.0,"y":-2.5},
{"p":"C","k":"ld","s":"g2","x":23,"y":-2.77},{"p":"C","k":"ld","s":"g2","x":23.2,"y":-2.77},{"p":"C","k":"ld","s":"g2","x":24.7,"y":-3.24},{"p":"C","k":"ld","s":"g2","x":25.0,"y":-3.24},
{"p":"C","k":"ld","s":"g3","x":23,"y":-2.94},{"p":"C","k":"ld","s":"g3","x":23.2,"y":-2.94},{"p":"C","k":"ld","s":"g3","x":24.7,"y":-4.0},{"p":"C","k":"ld","s":"g3","x":25.0,"y":-4.0},
{"p":"C","k":"ld","s":"u","x":23,"y":-7},{"p":"C","k":"ld","s":"u","x":23.2,"y":-7},{"p":"C","k":"ld","s":"u","x":24.7,"y":-5.17},{"p":"C","k":"ld","s":"u","x":25.0,"y":-5.17},
{"p":"C","k":"ld","s":"d","x":15.8,"y":-7},{"p":"C","k":"ld","s":"d","x":24.6,"y":-5.93},{"p":"C","k":"ld","s":"d","x":25.0,"y":-5.93},
{"p":"C","k":"ld","s":"y","x":23,"y":-7},{"p":"C","k":"ld","s":"y","x":23.2,"y":-7},{"p":"C","k":"ld","s":"y","x":24.7,"y":-6.74},{"p":"C","k":"ld","s":"y","x":25.0,"y":-6.74},

{"p":"E","k":"ld","s":"tb","x":23,"y":-0.46},{"p":"E","k":"ld","s":"tb","x":23.2,"y":-0.46},{"p":"E","k":"ld","s":"tb","x":24.7,"y":0.42},{"p":"E","k":"ld","s":"tb","x":25.0,"y":0.42},
{"p":"E","k":"ld","s":"k","x":23,"y":-0.77},{"p":"E","k":"ld","s":"k","x":23.2,"y":-0.77},{"p":"E","k":"ld","s":"k","x":24.7,"y":-0.35},{"p":"E","k":"ld","s":"k","x":25.0,"y":-0.35},
{"p":"E","k":"ld","s":"l","x":23,"y":-1.08},{"p":"E","k":"ld","s":"l","x":23.2,"y":-1.08},{"p":"E","k":"ld","s":"l","x":24.7,"y":-1.05},{"p":"E","k":"ld","s":"l","x":25.0,"y":-1.05},
{"p":"E","k":"ld","s":"v","x":23,"y":-1.24},{"p":"E","k":"ld","s":"v","x":23.2,"y":-1.24},{"p":"E","k":"ld","s":"v","x":24.7,"y":-1.78},{"p":"E","k":"ld","s":"v","x":25.0,"y":-1.78},
{"p":"E","k":"ld","s":"g1","x":23,"y":-2.87},{"p":"E","k":"ld","s":"g1","x":23.2,"y":-2.87},{"p":"E","k":"ld","s":"g1","x":24.7,"y":-2.56},{"p":"E","k":"ld","s":"g1","x":25.0,"y":-2.56},
{"p":"E","k":"ld","s":"g2","x":23,"y":-2.87},{"p":"E","k":"ld","s":"g2","x":23.2,"y":-2.87},{"p":"E","k":"ld","s":"g2","x":24.7,"y":-3.24},{"p":"E","k":"ld","s":"g2","x":25.0,"y":-3.24},
{"p":"E","k":"ld","s":"g3","x":23,"y":-2.99},{"p":"E","k":"ld","s":"g3","x":23.2,"y":-2.99},{"p":"E","k":"ld","s":"g3","x":24.7,"y":-3.98},{"p":"E","k":"ld","s":"g3","x":25.0,"y":-3.98},
{"p":"E","k":"ld","s":"u","x":23,"y":-7},{"p":"E","k":"ld","s":"u","x":23.2,"y":-7},{"p":"E","k":"ld","s":"u","x":24.7,"y":-5.25},{"p":"E","k":"ld","s":"u","x":25.0,"y":-5.25},
{"p":"E","k":"ld","s":"d","x":15.8,"y":-7},{"p":"E","k":"ld","s":"d","x":24.6,"y":-5.95},{"p":"E","k":"ld","s":"d","x":25.0,"y":-5.95},
{"p":"E","k":"ld","s":"y","x":23,"y":-7},{"p":"E","k":"ld","s":"y","x":23.2,"y":-7},{"p":"E","k":"ld","s":"y","x":24.7,"y":-6.74},{"p":"E","k":"ld","s":"y","x":25.0,"y":-6.74},

{"p":"B","k":"ld","s":"k","x":17.38,"y":0.51},{"p":"B","k":"ld","s":"k","x":24.15,"y":0.56},{"p":"B","k":"ld","s":"k","x":24.4,"y":0.56},
{"p":"B","k":"ld","s":"g1","x":17.38,"y":0.14},{"p":"B","k":"ld","s":"g1","x":24.15,"y":-0.19},{"p":"B","k":"ld","s":"g1","x":24.4,"y":-0.19},
{"p":"B","k":"ld","s":"tb","x":17.38,"y":-0.06},{"p":"B","k":"ld","s":"tb","x":24.15,"y":-0.9},{"p":"B","k":"ld","s":"tb","x":24.4,"y":-0.9},
{"p":"B","k":"ld","s":"v","x":17.38,"y":-1.23},{"p":"B","k":"ld","s":"v","x":24.15,"y":-1.73},{"p":"B","k":"ld","s":"v","x":24.4,"y":-1.73},
{"p":"B","k":"ld","s":"g2","x":17.38,"y":-1.77},{"p":"B","k":"ld","s":"g2","x":24.15,"y":-2.46},{"p":"B","k":"ld","s":"g2","x":24.4,"y":-2.46},
{"p":"B","k":"ld","s":"g3","x":17.38,"y":-2.8},{"p":"B","k":"ld","s":"g3","x":24.15,"y":-3.15},{"p":"B","k":"ld","s":"g3","x":24.4,"y":-3.15},
{"p":"B","k":"ld","s":"l","x":17.38,"y":-2.85},{"p":"B","k":"ld","s":"l","x":24.15,"y":-3.93},{"p":"B","k":"ld","s":"l","x":24.4,"y":-3.93},
{"p":"B","k":"ld","s":"d","x":16.0,"y":-7},{"p":"B","k":"ld","s":"d","x":24.15,"y":-5.89},{"p":"B","k":"ld","s":"d","x":24.4,"y":-5.89},
{"p":"B","k":"ld","s":"y","x":16.5,"y":-7},{"p":"B","k":"ld","s":"y","x":24.15,"y":-6.75},{"p":"B","k":"ld","s":"y","x":24.4,"y":-6.75},

{"p":"D","k":"ld","s":"k","x":13.9,"y":0.6},{"p":"D","k":"ld","s":"k","x":24.05,"y":0.6},{"p":"D","k":"ld","s":"k","x":24.4,"y":0.6},
{"p":"D","k":"ld","s":"l","x":13.9,"y":-0.03},{"p":"D","k":"ld","s":"l","x":24.05,"y":-0.13},{"p":"D","k":"ld","s":"l","x":24.4,"y":-0.13},
{"p":"D","k":"ld","s":"g1","x":13.9,"y":-0.07},{"p":"D","k":"ld","s":"g1","x":24.05,"y":-0.86},{"p":"D","k":"ld","s":"g1","x":24.4,"y":-0.86},
{"p":"D","k":"ld","s":"tb","x":13.9,"y":-0.13},{"p":"D","k":"ld","s":"tb","x":24.05,"y":-1.68},{"p":"D","k":"ld","s":"tb","x":24.4,"y":-1.68},
{"p":"D","k":"ld","s":"v","x":13.9,"y":-1.19},{"p":"D","k":"ld","s":"v","x":24.05,"y":-2.38},{"p":"D","k":"ld","s":"v","x":24.4,"y":-2.38},
{"p":"D","k":"ld","s":"g2","x":13.9,"y":-2.63},{"p":"D","k":"ld","s":"g2","x":24.05,"y":-3.15},{"p":"D","k":"ld","s":"g2","x":24.4,"y":-3.15},
{"p":"D","k":"ld","s":"g3","x":13.9,"y":-2.82},{"p":"D","k":"ld","s":"g3","x":24.05,"y":-3.85},{"p":"D","k":"ld","s":"g3","x":24.4,"y":-3.85},
{"p":"D","k":"ld","s":"d","x":13.9,"y":-4.32},{"p":"D","k":"ld","s":"d","x":24.05,"y":-4.62},{"p":"D","k":"ld","s":"d","x":24.4,"y":-4.62},
{"p":"D","k":"ld","s":"y","x":13.9,"y":-4.42},{"p":"D","k":"ld","s":"y","x":24.05,"y":-5.4},{"p":"D","k":"ld","s":"y","x":24.4,"y":-5.4},
{"p":"D","k":"ld","s":"u","x":13.8,"y":-7},{"p":"D","k":"ld","s":"u","x":24.05,"y":-6.74},{"p":"D","k":"ld","s":"u","x":24.4,"y":-6.74},

{"p":"F","k":"ld","s":"g2","x":19.69,"y":-0.14},{"p":"F","k":"ld","s":"g2","x":24.15,"y":0.62},{"p":"F","k":"ld","s":"g2","x":24.4,"y":0.62},
{"p":"F","k":"ld","s":"tb","x":19.69,"y":-0.19},{"p":"F","k":"ld","s":"tb","x":24.15,"y":-0.19},{"p":"F","k":"ld","s":"tb","x":24.4,"y":-0.19},
{"p":"F","k":"ld","s":"k","x":19.69,"y":-0.32},{"p":"F","k":"ld","s":"k","x":24.15,"y":-0.92},{"p":"F","k":"ld","s":"k","x":24.4,"y":-0.92},
{"p":"F","k":"ld","s":"l","x":19.69,"y":-0.52},{"p":"F","k":"ld","s":"l","x":24.15,"y":-1.65},{"p":"F","k":"ld","s":"l","x":24.4,"y":-1.65},
{"p":"F","k":"ld","s":"v","x":19.69,"y":-1.17},{"p":"F","k":"ld","s":"v","x":24.15,"y":-2.41},{"p":"F","k":"ld","s":"v","x":24.4,"y":-2.41},
{"p":"F","k":"ld","s":"g3","x":19.69,"y":-2.86},{"p":"F","k":"ld","s":"g3","x":24.15,"y":-3.12},{"p":"F","k":"ld","s":"g3","x":24.4,"y":-3.12},
{"p":"F","k":"ld","s":"g1","x":19.69,"y":-2.88},{"p":"F","k":"ld","s":"g1","x":24.15,"y":-3.85},{"p":"F","k":"ld","s":"g1","x":24.4,"y":-3.85},
{"p":"F","k":"ld","s":"d","x":16.0,"y":-7},{"p":"F","k":"ld","s":"d","x":24.15,"y":-5.82},{"p":"F","k":"ld","s":"d","x":24.4,"y":-5.82},
{"p":"F","k":"ld","s":"y","x":16.5,"y":-7},{"p":"F","k":"ld","s":"y","x":24.15,"y":-6.67},{"p":"F","k":"ld","s":"y","x":24.4,"y":-6.67}
]},
"columns":2,
"spacing":{"row":27,"column":72},
"bounds":"flush",
"concat":[
{"transform":[{"filter":"datum.p==='A'"}],"width":264,"height":164,"layer":[
{"transform":[{"filter":"datum.k==='band'"}],"mark":{"type":"rect","color":"#e6e6e6"},"encoding":{"x":{"field":"x","type":"quantitative","scale":{"domain":[3,23],"nice":false,"zero":false},"axis":{"title":"μ/GeV"}},"x2":{"field":"x2"}}},
{"transform":[{"filter":"!datum.k && datum.s!=='b'"}],"mark":{"type":"line","interpolate":"monotone","strokeWidth":1.2},"encoding":{"x":{"field":"x","type":"quantitative"},"y":{"field":"y","type":"quantitative","scale":{"domain":[-7,1],"nice":false,"zero":false},"axis":{"title":null}},"color":{"field":"s","type":"nominal","legend":null,"scale":{"domain":["tb","b","k","l","v","g1","g2","g3","u","d","y"],"range":["#6aaa3c","#6aaa3c","#5bbfea","#8c7dc8","#d4890a","#4a70bd","#e5532b","#f2b322","#8b5a12","#ff8660","#b01419"]}}}},
{"transform":[{"filter":"datum.s==='b' && !datum.k"}],"mark":{"type":"line","interpolate":"monotone","strokeWidth":1.2,"strokeDash":[4,3],"color":"#6aaa3c"},"encoding":{"x":{"field":"x","type":"quantitative"},"y":{"field":"y","type":"quantitative"}}},
{"transform":[{"filter":"datum.k==='ld'"}],"mark":{"type":"line","interpolate":"monotone","strokeWidth":0.8,"color":"#a9a9a9"},"encoding":{"x":{"field":"x","type":"quantitative"},"y":{"field":"y","type":"quantitative"},"detail":{"field":"s"}}},
{"transform":[{"filter":"datum.k==='lb'"}],"mark":{"type":"text","text":"α","align":"left","baseline":"middle","fontSize":13,"fontStyle":"italic"},"encoding":{"x":{"field":"x","type":"quantitative"},"y":{"field":"y","type":"quantitative"},"color":{"field":"s","type":"nominal","legend":null}}},
{"transform":[{"filter":"datum.k==='lb' && indexof(['tb','v','u','y','g2'],datum.s)<0"}],"mark":{"type":"text","align":"left","baseline":"middle","fontSize":9,"fontStyle":"italic","dx":8,"dy":4},"encoding":{"x":{"field":"x","type":"quantitative"},"y":{"field":"y","type":"quantitative"},"text":{"field":"t"},"color":{"field":"s","type":"nominal","legend":null}}},
{"transform":[{"filter":"datum.k==='lb' && indexof(['tb','v','u','y','g2'],datum.s)>=0"}],"mark":{"type":"text","align":"left","baseline":"middle","fontSize":9,"fontStyle":"italic","fontWeight":"bold","dx":8,"dy":4},"encoding":{"x":{"field":"x","type":"quantitative"},"y":{"field":"y","type":"quantitative"},"text":{"field":"t"},"color":{"field":"s","type":"nominal","legend":null}}},
{"transform":[{"filter":"datum.k==='m'"}],"mark":{"type":"text","align":"left","baseline":"middle","fontSize":15,"fontWeight":"bold","color":"#111"},"encoding":{"x":{"field":"x","type":"quantitative"},"y":{"field":"y","type":"quantitative"},"text":{"field":"t"}}},
{"transform":[{"filter":"datum.k==='n'"}],"mark":{"type":"text","align":"center","baseline":"middle","fontSize":12,"color":"#222"},"encoding":{"x":{"field":"x","type":"quantitative"},"y":{"field":"y","type":"quantitative"},"text":{"field":"t"}}}
]},
{"transform":[{"filter":"datum.p==='B'"}],"width":264,"height":164,"layer":[
{"transform":[{"filter":"datum.k==='band'"}],"mark":{"type":"rect","color":"#e6e6e6"},"encoding":{"x":{"field":"x","type":"quantitative","scale":{"domain":[3,23],"nice":false,"zero":false},"axis":{"title":"μ/GeV"}},"x2":{"field":"x2"}}},
{"transform":[{"filter":"!datum.k && datum.s!=='b'"}],"mark":{"type":"line","interpolate":"monotone","strokeWidth":1.2},"encoding":{"x":{"field":"x","type":"quantitative"},"y":{"field":"y","type":"quantitative","scale":{"domain":[-7,1],"nice":false,"zero":false},"axis":{"title":null}},"color":{"field":"s","type":"nominal","legend":null,"scale":{"domain":["tb","b","k","l","v","g1","g2","g3","u","d","y"],"range":["#6aaa3c","#6aaa3c","#5bbfea","#8c7dc8","#d4890a","#4a70bd","#e5532b","#f2b322","#8b5a12","#ff8660","#b01419"]}}}},
{"transform":[{"filter":"datum.s==='b' && !datum.k"}],"mark":{"type":"line","interpolate":"monotone","strokeWidth":1.2,"strokeDash":[4,3],"color":"#6aaa3c"},"encoding":{"x":{"field":"x","type":"quantitative"},"y":{"field":"y","type":"quantitative"}}},
{"transform":[{"filter":"datum.k==='ld'"}],"mark":{"type":"line","interpolate":"monotone","strokeWidth":0.8,"color":"#a9a9a9"},"encoding":{"x":{"field":"x","type":"quantitative"},"y":{"field":"y","type":"quantitative"},"detail":{"field":"s"}}},
{"transform":[{"filter":"datum.k==='lb'"}],"mark":{"type":"text","text":"α","align":"left","baseline":"middle","fontSize":13,"fontStyle":"italic"},"encoding":{"x":{"field":"x","type":"quantitative"},"y":{"field":"y","type":"quantitative"},"color":{"field":"s","type":"nominal","legend":null}}},
{"transform":[{"filter":"datum.k==='lb' && indexof(['tb','v','u','y','g2'],datum.s)<0"}],"mark":{"type":"text","align":"left","baseline":"middle","fontSize":9,"fontStyle":"italic","dx":8,"dy":4},"encoding":{"x":{"field":"x","type":"quantitative"},"y":{"field":"y","type":"quantitative"},"text":{"field":"t"},"color":{"field":"s","type":"nominal","legend":null}}},
{"transform":[{"filter":"datum.k==='lb' && indexof(['tb','v','u','y','g2'],datum.s)>=0"}],"mark":{"type":"text","align":"left","baseline":"middle","fontSize":9,"fontStyle":"italic","fontWeight":"bold","dx":8,"dy":4},"encoding":{"x":{"field":"x","type":"quantitative"},"y":{"field":"y","type":"quantitative"},"text":{"field":"t"},"color":{"field":"s","type":"nominal","legend":null}}},
{"transform":[{"filter":"datum.k==='m'"}],"mark":{"type":"text","align":"left","baseline":"middle","fontSize":15,"fontWeight":"bold","color":"#111"},"encoding":{"x":{"field":"x","type":"quantitative"},"y":{"field":"y","type":"quantitative"},"text":{"field":"t"}}},
{"transform":[{"filter":"datum.k==='n'"}],"mark":{"type":"text","align":"center","baseline":"middle","fontSize":12,"color":"#222"},"encoding":{"x":{"field":"x","type":"quantitative"},"y":{"field":"y","type":"quantitative"},"text":{"field":"t"}}}
]},
{"transform":[{"filter":"datum.p==='C'"}],"width":264,"height":164,"layer":[
{"transform":[{"filter":"datum.k==='band'"}],"mark":{"type":"rect","color":"#e6e6e6"},"encoding":{"x":{"field":"x","type":"quantitative","scale":{"domain":[3,23],"nice":false,"zero":false},"axis":{"title":"μ/GeV"}},"x2":{"field":"x2"}}},
{"transform":[{"filter":"!datum.k && datum.s!=='b'"}],"mark":{"type":"line","interpolate":"monotone","strokeWidth":1.2},"encoding":{"x":{"field":"x","type":"quantitative"},"y":{"field":"y","type":"quantitative","scale":{"domain":[-7,1],"nice":false,"zero":false},"axis":{"title":null}},"color":{"field":"s","type":"nominal","legend":null,"scale":{"domain":["tb","b","k","l","v","g1","g2","g3","u","d","y"],"range":["#6aaa3c","#6aaa3c","#5bbfea","#8c7dc8","#d4890a","#4a70bd","#e5532b","#f2b322","#8b5a12","#ff8660","#b01419"]}}}},
{"transform":[{"filter":"datum.s==='b' && !datum.k"}],"mark":{"type":"line","interpolate":"monotone","strokeWidth":1.2,"strokeDash":[4,3],"color":"#6aaa3c"},"encoding":{"x":{"field":"x","type":"quantitative"},"y":{"field":"y","type":"quantitative"}}},
{"transform":[{"filter":"datum.k==='ld'"}],"mark":{"type":"line","interpolate":"monotone","strokeWidth":0.8,"color":"#a9a9a9"},"encoding":{"x":{"field":"x","type":"quantitative"},"y":{"field":"y","type":"quantitative"},"detail":{"field":"s"}}},
{"transform":[{"filter":"datum.k==='lb'"}],"mark":{"type":"text","text":"α","align":"left","baseline":"middle","fontSize":13,"fontStyle":"italic"},"encoding":{"x":{"field":"x","type":"quantitative"},"y":{"field":"y","type":"quantitative"},"color":{"field":"s","type":"nominal","legend":null}}},
{"transform":[{"filter":"datum.k==='lb' && indexof(['tb','v','u','y','g2'],datum.s)<0"}],"mark":{"type":"text","align":"left","baseline":"middle","fontSize":9,"fontStyle":"italic","dx":8,"dy":4},"encoding":{"x":{"field":"x","type":"quantitative"},"y":{"field":"y","type":"quantitative"},"text":{"field":"t"},"color":{"field":"s","type":"nominal","legend":null}}},
{"transform":[{"filter":"datum.k==='lb' && indexof(['tb','v','u','y','g2'],datum.s)>=0"}],"mark":{"type":"text","align":"left","baseline":"middle","fontSize":9,"fontStyle":"italic","fontWeight":"bold","dx":8,"dy":4},"encoding":{"x":{"field":"x","type":"quantitative"},"y":{"field":"y","type":"quantitative"},"text":{"field":"t"},"color":{"field":"s","type":"nominal","legend":null}}},
{"transform":[{"filter":"datum.k==='m'"}],"mark":{"type":"text","align":"left","baseline":"middle","fontSize":15,"fontWeight":"bold","color":"#111"},"encoding":{"x":{"field":"x","type":"quantitative"},"y":{"field":"y","type":"quantitative"},"text":{"field":"t"}}},
{"transform":[{"filter":"datum.k==='n'"}],"mark":{"type":"text","align":"center","baseline":"middle","fontSize":12,"color":"#222"},"encoding":{"x":{"field":"x","type":"quantitative"},"y":{"field":"y","type":"quantitative"},"text":{"field":"t"}}}
]},
{"transform":[{"filter":"datum.p==='D'"}],"width":264,"height":164,"layer":[
{"transform":[{"filter":"datum.k==='band'"}],"mark":{"type":"rect","color":"#e6e6e6"},"encoding":{"x":{"field":"x","type":"quantitative","scale":{"domain":[3,23],"nice":false,"zero":false},"axis":{"title":"μ/GeV"}},"x2":{"field":"x2"}}},
{"transform":[{"filter":"!datum.k && datum.s!=='b'"}],"mark":{"type":"line","interpolate":"monotone","strokeWidth":1.2},"encoding":{"x":{"field":"x","type":"quantitative"},"y":{"field":"y","type":"quantitative","scale":{"domain":[-7,1],"nice":false,"zero":false},"axis":{"title":null}},"color":{"field":"s","type":"nominal","legend":null,"scale":{"domain":["tb","b","k","l","v","g1","g2","g3","u","d","y"],"range":["#6aaa3c","#6aaa3c","#5bbfea","#8c7dc8","#d4890a","#4a70bd","#e5532b","#f2b322","#8b5a12","#ff8660","#b01419"]}}}},
{"transform":[{"filter":"datum.s==='b' && !datum.k"}],"mark":{"type":"line","interpolate":"monotone","strokeWidth":1.2,"strokeDash":[4,3],"color":"#6aaa3c"},"encoding":{"x":{"field":"x","type":"quantitative"},"y":{"field":"y","type":"quantitative"}}},
{"transform":[{"filter":"datum.k==='ld'"}],"mark":{"type":"line","interpolate":"monotone","strokeWidth":0.8,"color":"#a9a9a9"},"encoding":{"x":{"field":"x","type":"quantitative"},"y":{"field":"y","type":"quantitative"},"detail":{"field":"s"}}},
{"transform":[{"filter":"datum.k==='lb'"}],"mark":{"type":"text","text":"α","align":"left","baseline":"middle","fontSize":13,"fontStyle":"italic"},"encoding":{"x":{"field":"x","type":"quantitative"},"y":{"field":"y","type":"quantitative"},"color":{"field":"s","type":"nominal","legend":null}}},
{"transform":[{"filter":"datum.k==='lb' && indexof(['tb','v','u','y','g2'],datum.s)<0"}],"mark":{"type":"text","align":"left","baseline":"middle","fontSize":9,"fontStyle":"italic","dx":8,"dy":4},"encoding":{"x":{"field":"x","type":"quantitative"},"y":{"field":"y","type":"quantitative"},"text":{"field":"t"},"color":{"field":"s","type":"nominal","legend":null}}},
{"transform":[{"filter":"datum.k==='lb' && indexof(['tb','v','u','y','g2'],datum.s)>=0"}],"mark":{"type":"text","align":"left","baseline":"middle","fontSize":9,"fontStyle":"italic","fontWeight":"bold","dx":8,"dy":4},"encoding":{"x":{"field":"x","type":"quantitative"},"y":{"field":"y","type":"quantitative"},"text":{"field":"t"},"color":{"field":"s","type":"nominal","legend":null}}},
{"transform":[{"filter":"datum.k==='m'"}],"mark":{"type":"text","align":"left","baseline":"middle","fontSize":15,"fontWeight":"bold","color":"#111"},"encoding":{"x":{"field":"x","type":"quantitative"},"y":{"field":"y","type":"quantitative"},"text":{"field":"t"}}},
{"transform":[{"filter":"datum.k==='n'"}],"mark":{"type":"text","align":"center","baseline":"middle","fontSize":12,"color":"#222"},"encoding":{"x":{"field":"x","type":"quantitative"},"y":{"field":"y","type":"quantitative"},"text":{"field":"t"}}}
]},
{"transform":[{"filter":"datum.p==='E'"}],"width":264,"height":164,"layer":[
{"transform":[{"filter":"datum.k==='band'"}],"mark":{"type":"rect","color":"#e6e6e6"},"encoding":{"x":{"field":"x","type":"quantitative","scale":{"domain":[3,23],"nice":false,"zero":false},"axis":{"title":"μ/GeV"}},"x2":{"field":"x2"}}},
{"transform":[{"filter":"!datum.k && datum.s!=='b'"}],"mark":{"type":"line","interpolate":"monotone","strokeWidth":1.2},"encoding":{"x":{"field":"x","type":"quantitative"},"y":{"field":"y","type":"quantitative","scale":{"domain":[-7,1],"nice":false,"zero":false},"axis":{"title":null}},"color":{"field":"s","type":"nominal","legend":null,"scale":{"domain":["tb","b","k","l","v","g1","g2","g3","u","d","y"],"range":["#6aaa3c","#6aaa3c","#5bbfea","#8c7dc8","#d4890a","#4a70bd","#e5532b","#f2b322","#8b5a12","#ff8660","#b01419"]}}}},
{"transform":[{"filter":"datum.s==='b' && !datum.k"}],"mark":{"type":"line","interpolate":"monotone","strokeWidth":1.2,"strokeDash":[4,3],"color":"#6aaa3c"},"encoding":{"x":{"field":"x","type":"quantitative"},"y":{"field":"y","type":"quantitative"}}},
{"transform":[{"filter":"datum.k==='ld'"}],"mark":{"type":"line","interpolate":"monotone","strokeWidth":0.8,"color":"#a9a9a9"},"encoding":{"x":{"field":"x","type":"quantitative"},"y":{"field":"y","type":"quantitative"},"detail":{"field":"s"}}},
{"transform":[{"filter":"datum.k==='lb'"}],"mark":{"type":"text","text":"α","align":"left","baseline":"middle","fontSize":13,"fontStyle":"italic"},"encoding":{"x":{"field":"x","type":"quantitative"},"y":{"field":"y","type":"quantitative"},"color":{"field":"s","type":"nominal","legend":null}}},
{"transform":[{"filter":"datum.k==='lb' && indexof(['tb','v','u','y','g2'],datum.s)<0"}],"mark":{"type":"text","align":"left","baseline":"middle","fontSize":9,"fontStyle":"italic","dx":8,"dy":4},"encoding":{"x":{"field":"x","type":"quantitative"},"y":{"field":"y","type":"quantitative"},"text":{"field":"t"},"color":{"field":"s","type":"nominal","legend":null}}},
{"transform":[{"filter":"datum.k==='lb' && indexof(['tb','v','u','y','g2'],datum.s)>=0"}],"mark":{"type":"text","align":"left","baseline":"middle","fontSize":9,"fontStyle":"italic","fontWeight":"bold","dx":8,"dy":4},"encoding":{"x":{"field":"x","type":"quantitative"},"y":{"field":"y","type":"quantitative"},"text":{"field":"t"},"color":{"field":"s","type":"nominal","legend":null}}},
{"transform":[{"filter":"datum.k==='m'"}],"mark":{"type":"text","align":"left","baseline":"middle","fontSize":15,"fontWeight":"bold","color":"#111"},"encoding":{"x":{"field":"x","type":"quantitative"},"y":{"field":"y","type":"quantitative"},"text":{"field":"t"}}},
{"transform":[{"filter":"datum.k==='n'"}],"mark":{"type":"text","align":"center","baseline":"middle","fontSize":12,"color":"#222"},"encoding":{"x":{"field":"x","type":"quantitative"},"y":{"field":"y","type":"quantitative"},"text":{"field":"t"}}}
]},
{"transform":[{"filter":"datum.p==='F'"}],"width":264,"height":164,"layer":[
{"transform":[{"filter":"datum.k==='band'"}],"mark":{"type":"rect","color":"#e6e6e6"},"encoding":{"x":{"field":"x","type":"quantitative","scale":{"domain":[3,23],"nice":false,"zero":false},"axis":{"title":"μ/GeV"}},"x2":{"field":"x2"}}},
{"transform":[{"filter":"!datum.k && datum.s!=='b'"}],"mark":{"type":"line","interpolate":"monotone","strokeWidth":1.2},"encoding":{"x":{"field":"x","type":"quantitative"},"y":{"field":"y","type":"quantitative","scale":{"domain":[-7,1],"nice":false,"zero":false},"axis":{"title":null}},"color":{"field":"s","type":"nominal","legend":null,"scale":{"domain":["tb","b","k","l","v","g1","g2","g3","u","d","y"],"range":["#6aaa3c","#6aaa3c","#5bbfea","#8c7dc8","#d4890a","#4a70bd","#e5532b","#f2b322","#8b5a12","#ff8660","#b01419"]}}}},
{"transform":[{"filter":"datum.s==='b' && !datum.k"}],"mark":{"type":"line","interpolate":"monotone","strokeWidth":1.2,"strokeDash":[4,3],"color":"#6aaa3c"},"encoding":{"x":{"field":"x","type":"quantitative"},"y":{"field":"y","type":"quantitative"}}},
{"transform":[{"filter":"datum.k==='ld'"}],"mark":{"type":"line","interpolate":"monotone","strokeWidth":0.8,"color":"#a9a9a9"},"encoding":{"x":{"field":"x","type":"quantitative"},"y":{"field":"y","type":"quantitative"},"detail":{"field":"s"}}},
{"transform":[{"filter":"datum.k==='lb'"}],"mark":{"type":"text","text":"α","align":"left","baseline":"middle","fontSize":13,"fontStyle":"italic"},"encoding":{"x":{"field":"x","type":"quantitative"},"y":{"field":"y","type":"quantitative"},"color":{"field":"s","type":"nominal","legend":null}}},
{"transform":[{"filter":"datum.k==='lb' && indexof(['tb','v','u','y','g2'],datum.s)<0"}],"mark":{"type":"text","align":"left","baseline":"middle","fontSize":9,"fontStyle":"italic","dx":8,"dy":4},"encoding":{"x":{"field":"x","type":"quantitative"},"y":{"field":"y","type":"quantitative"},"text":{"field":"t"},"color":{"field":"s","type":"nominal","legend":null}}},
{"transform":[{"filter":"datum.k==='lb' && indexof(['tb','v','u','y','g2'],datum.s)>=0"}],"mark":{"type":"text","align":"left","baseline":"middle","fontSize":9,"fontStyle":"italic","fontWeight":"bold","dx":8,"dy":4},"encoding":{"x":{"field":"x","type":"quantitative"},"y":{"field":"y","type":"quantitative"},"text":{"field":"t"},"color":{"field":"s","type":"nominal","legend":null}}},
{"transform":[{"filter":"datum.k==='m'"}],"mark":{"type":"text","align":"left","baseline":"middle","fontSize":15,"fontWeight":"bold","color":"#111"},"encoding":{"x":{"field":"x","type":"quantitative"},"y":{"field":"y","type":"quantitative"},"text":{"field":"t"}}},
{"transform":[{"filter":"datum.k==='n'"}],"mark":{"type":"text","align":"center","baseline":"middle","fontSize":12,"color":"#222"},"encoding":{"x":{"field":"x","type":"quantitative"},"y":{"field":"y","type":"quantitative"},"text":{"field":"t"}}}
]}
],
"config":{
 "font":"Liberation Serif",
 "view":{"stroke":"#9a9a9a","strokeWidth":1},
 "axis":{"domain":false,"grid":false,"tickSize":-3,"tickColor":"#999","labelFont":"DejaVu Serif","labelFontSize":10.5,"labelColor":"#555","labelPadding":0,"titleFont":"Liberation Serif","titleFontSize":11,"titleFontWeight":"normal","titleColor":"#444","titlePadding":4,"labelOverlap":false,"labelFlush":false,"labelBound":false},
 "axisX":{"tickCount":20,"labelExpr":"datum.value==4?'10⁴':datum.value==6?'10⁶':datum.value==8?'10⁸':datum.value==10?'10¹⁰':datum.value==12?'10¹²':datum.value==14?'10¹⁴':datum.value==16?'10¹⁶':datum.value==18?'10¹⁸':datum.value==20?'10²⁰':datum.value==22?'10²²':''"},
 "axisY":{"tickCount":8,"labelExpr":"datum.value==1?'10¹':datum.value==0?'10⁰':datum.value==-1?'10⁻¹':datum.value==-2?'10⁻²':datum.value==-3?'10⁻³':datum.value==-4?'10⁻⁴':datum.value==-5?'10⁻⁵':datum.value==-6?'10⁻⁶':''"}
}
}
